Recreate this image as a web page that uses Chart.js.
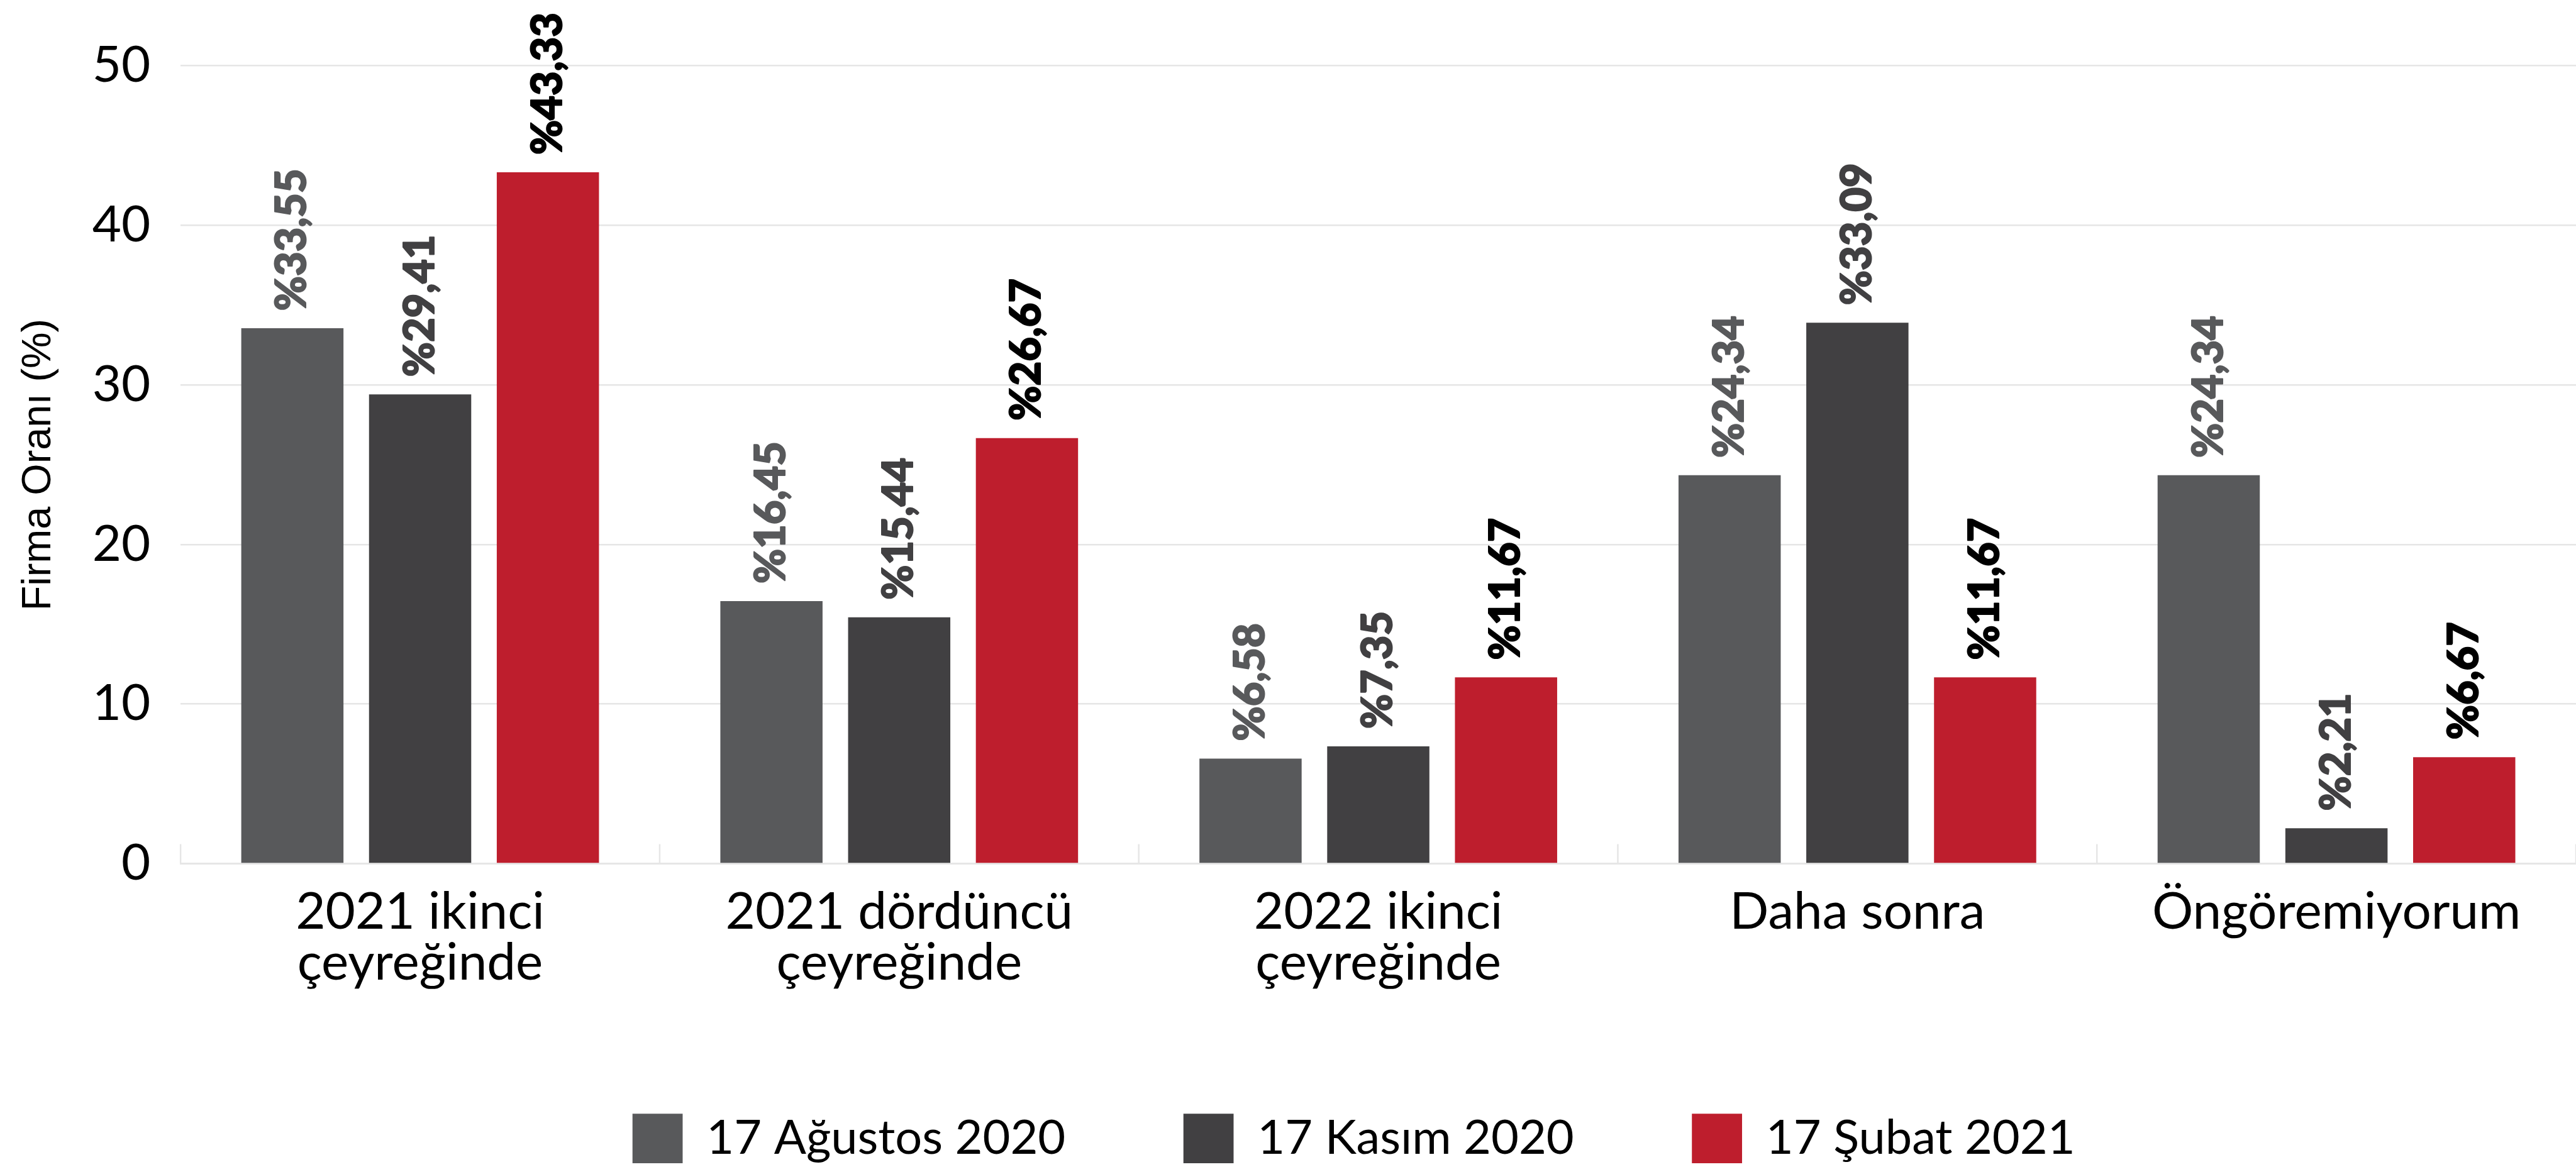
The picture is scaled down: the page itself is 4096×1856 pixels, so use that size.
<!DOCTYPE html>
<html lang="tr">
<head>
<meta charset="utf-8">
<title>Firma Oranı</title>
<script src="https://cdn.jsdelivr.net/npm/chart.js@4/dist/chart.umd.min.js"></script>
<style>
  html, body { margin: 0; padding: 0; background: #fff; }
  #wrap { width: 4096px; height: 1856px; }
</style>
</head>
<body>
<div id="wrap"><canvas id="chart" width="4096" height="1856"></canvas></div>
<script>
// everything is drawn at 0.997 of the reference size
const S = 0.997;

const categories = [
  ['2021 ikinci', 'çeyreğinde'],
  ['2021 dördüncü', 'çeyreğinde'],
  ['2022 ikinci', 'çeyreğinde'],
  'Daha sonra',
  'Öngöremiyorum'
];
const seriesNames = ['17 Ağustos 2020', '17 Kasım 2020', '17 Şubat 2021'];
// bar heights as drawn
const aug2020 = [33.55, 16.45, 6.58, 24.34, 24.34];
const nov2020 = [29.41, 15.44, 7.35, 33.9, 2.21];
const feb2021 = [43.33, 26.67, 11.67, 11.67, 6.67];
// labels as printed (the "Daha sonra" Kasım bar is taller than its label)
const aug2020Labels = ['%33,55', '%16,45', '%6,58', '%24,34', '%24,34'];
const nov2020Labels = ['%29,41', '%15,44', '%7,35', '%33,09', '%2,21'];
const feb2021Labels = ['%43,33', '%26,67', '%11,67', '%11,67', '%6,67'];
const yTicks = [0, 10, 20, 30, 40, 50];

const barColors = ['#58595b', '#414042', '#be1e2d'];
const labelColors = ['#58595b', '#414042', '#000000'];
const gridColor = '#e6e6e6';

const valueTexts = [aug2020Labels, nov2020Labels, feb2021Labels];

// rotated value labels above each bar
const barValueLabels = {
  id: 'barValueLabels',
  afterDatasetsDraw(chart) {
    const ctx = chart.ctx;
    chart.data.datasets.forEach((ds, di) => {
      chart.getDatasetMeta(di).data.forEach((bar, i) => {
        const txt = valueTexts[di][i];
        ctx.save();
        ctx.translate(bar.x, bar.y - 28 * S);
        ctx.rotate(-Math.PI / 2);
        ctx.font = `900 ${67 * S}px Lato`;
        ctx.fillStyle = labelColors[di];
        ctx.strokeStyle = labelColors[di];
        ctx.lineWidth = 2 * S;
        ctx.lineJoin = 'round';
        ctx.textAlign = 'left';
        ctx.textBaseline = 'middle';
        ctx.fillText(txt, 0, 0);
        ctx.strokeText(txt, 0, 0);
        ctx.restore();
      });
    });
  }
};

// short marks between categories, rising from the axis line
const categoryMarks = {
  id: 'categoryMarks',
  beforeDatasetsDraw(chart) {
    const { ctx, chartArea } = chart;
    const x = chart.scales.x;
    const step = (x.right - x.left) / categories.length;
    ctx.save();
    ctx.strokeStyle = gridColor;
    ctx.lineWidth = 2.5 * S;
    for (let k = 0; k <= categories.length; k++) {
      const px = x.left + k * step;
      ctx.beginPath();
      ctx.moveTo(px, chartArea.bottom);
      ctx.lineTo(px, chartArea.bottom - 31 * S);
      ctx.stroke();
    }
    ctx.restore();
  }
};

// legend in the reference sits a bit right of centre
const legendShift = {
  id: 'legendShift',
  afterLayout(chart) {
    const dx = 105 * S;
    chart.legend.left += dx;
    chart.legend.right += dx;
  }
};

function draw() {
  new Chart(document.getElementById('chart'), {
    type: 'bar',
    data: {
      labels: categories,
      datasets: [
        { label: seriesNames[0], data: aug2020, backgroundColor: barColors[0] },
        { label: seriesNames[1], data: nov2020, backgroundColor: barColors[1] },
        { label: seriesNames[2], data: feb2021, backgroundColor: barColors[2] }
      ]
    },
    options: {
      responsive: false,
      animation: false,
      datasets: {
        bar: { barPercentage: 0.8, categoryPercentage: 0.8, borderWidth: 0 }
      },
      layout: { padding: { top: 105 * S, bottom: -4 * S, left: 0, right: 0 } },
      scales: {
        x: {
          grid: { display: false, drawTicks: false },
          border: { display: true, color: gridColor, width: 3 * S },
          ticks: {
            color: '#000',
            font: { family: 'Lato', size: 82 * S, lineHeight: 1.0 },
            padding: 36 * S,
            maxRotation: 0,
            minRotation: 0,
            autoSkip: false
          },
          // chart.js counts tick padding twice; keep only one
          afterFit(scale) {
            scale.height = (2 * 82 + 36) * S;
          }
        },
        y: {
          min: yTicks[0],
          max: yTicks[yTicks.length - 1],
          grid: { color: gridColor, lineWidth: 2.5 * S, drawTicks: false },
          border: { display: false },
          ticks: {
            stepSize: yTicks[1] - yTicks[0],
            color: '#000',
            font: { family: 'Lato', size: 80 * S },
            padding: 48 * S
          },
          title: {
            display: true,
            text: 'Firma Oranı (%)',
            color: '#000',
            font: { family: 'Liberation Sans', size: 65 * S, lineHeight: 1.2 },
            padding: { top: 23 * S, bottom: 46 * S }
          },
          afterFit(scale) {
            scale.width = 288 * S;
          }
        }
      },
      plugins: {
        tooltip: { enabled: false },
        legend: {
          position: 'bottom',
          labels: {
            boxWidth: 80 * S,
            boxHeight: 79 * S,
            padding: 188 * S,
            color: '#000',
            font: { family: 'Lato', size: 76 * S }
          },
          title: {
            display: true,
            text: ' ',
            font: { size: 11 * S, lineHeight: 1 },
            padding: 0
          }
        }
      }
    },
    plugins: [categoryMarks, barValueLabels, legendShift]
  });
}

Promise.all([
  document.fonts.load(`${80 * S}px Lato`),
  document.fonts.load(`900 ${67 * S}px Lato`),
  document.fonts.load(`${65 * S}px "Liberation Sans"`)
]).then(draw, draw);
</script>
</body>
</html>
